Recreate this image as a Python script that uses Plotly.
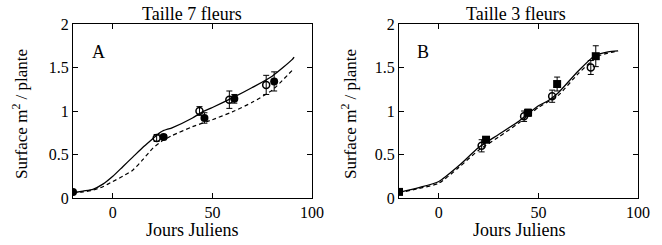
import plotly.graph_objects as go

# Panel A (Taille 7 fleurs)
a_solid_x = [-20, -15, -10, -5, 0, 5, 10, 15, 20, 23, 25, 30, 40, 45, 50, 60, 70, 80, 90, 91]
a_solid_y = [0.06, 0.08, 0.10, 0.16, 0.25, 0.36, 0.47, 0.58, 0.68, 0.74, 0.77, 0.81, 0.92, 0.99, 1.04, 1.15, 1.27, 1.40, 1.59, 1.62]
a_dash_x = [-20, -15, -10, -5, 0, 5, 10, 15, 20, 25, 30, 40, 50, 60, 70, 80, 91]
a_dash_y = [0.06, 0.07, 0.09, 0.13, 0.19, 0.25, 0.32, 0.44, 0.57, 0.66, 0.72, 0.82, 0.90, 0.99, 1.10, 1.24, 1.49]
a_open_x = [22, 43.5, 58.5, 77]
a_open_y = [0.69, 1.00, 1.13, 1.30]
a_open_err = [0.04, 0.05, 0.10, 0.11]
a_fill_x = [-20, 25.5, 46, 61, 81]
a_fill_y = [0.07, 0.70, 0.92, 1.14, 1.34]
a_fill_err = [0.0, 0.03, 0.06, 0.05, 0.11]

# Panel B (Taille 3 fleurs)
b_solid_x = [-20, -10, 0, 10, 20, 30, 40, 50, 55, 60, 70, 78, 85, 90]
b_solid_y = [0.065, 0.12, 0.19, 0.37, 0.58, 0.73, 0.88, 1.06, 1.12, 1.21, 1.46, 1.63, 1.68, 1.69]
b_dash_x = [-20, -10, 0, 10, 20, 30, 40, 50, 60, 70, 80, 90]
b_dash_y = [0.06, 0.11, 0.17, 0.35, 0.55, 0.70, 0.86, 1.04, 1.18, 1.43, 1.63, 1.69]
b_open_x = [21.5, 42.8, 56.9, 76.3]
b_open_y = [0.60, 0.94, 1.17, 1.50]
b_open_err = [0.07, 0.06, 0.07, 0.08]
b_fill_x = [-20, 23.7, 44.8, 59.4, 78.8]
b_fill_y = [0.07, 0.67, 0.98, 1.31, 1.63]
b_fill_err = [0.0, 0.03, 0.04, 0.08, 0.12]

x_ticks = [0, 50, 100]
y_ticks = [0, 0.5, 1, 1.5, 2]
y_labels = ["0", "0.5", "1", "1.5", "2"]

W, H = 662, 245
FONT = "Liberation Serif"

fig = go.Figure()

def add_panel(xa, ya, sx, sy, dx, dy, ox, oy, oe, fx, fy, fe, fsym):
    fig.add_trace(go.Scatter(x=sx, y=sy, mode="lines", line=dict(color="black", width=1.3, shape="spline", smoothing=0.6),
                             xaxis=xa, yaxis=ya, showlegend=False))
    fig.add_trace(go.Scatter(x=dx, y=dy, mode="lines", line=dict(color="black", width=1.2, dash="4px,3px", shape="spline", smoothing=0.6),
                             xaxis=xa, yaxis=ya, showlegend=False))
    fig.add_trace(go.Scatter(x=ox, y=oy, mode="markers",
                             marker=dict(symbol="circle-open", size=7, color="black", line=dict(width=1.5)),
                             error_y=dict(type="data", array=oe, color="black", thickness=1, width=3),
                             xaxis=xa, yaxis=ya, showlegend=False))
    fig.add_trace(go.Scatter(x=fx, y=fy, mode="markers",
                             marker=dict(symbol=fsym, size=8, color="black"),
                             error_y=dict(type="data", array=fe, color="black", thickness=1, width=3),
                             xaxis=xa, yaxis=ya, showlegend=False))

add_panel("x", "y", a_solid_x, a_solid_y, a_dash_x, a_dash_y, a_open_x, a_open_y, a_open_err,
          a_fill_x, a_fill_y, a_fill_err, "circle")
add_panel("x2", "y2", b_solid_x, b_solid_y, b_dash_x, b_dash_y, b_open_x, b_open_y, b_open_err,
          b_fill_x, b_fill_y, b_fill_err, "square")

ydom = [1 - 198 / H, 1 - 24 / H]
axis_common = dict(showgrid=False, zeroline=False, showline=True, linecolor="black", linewidth=1,
                   mirror="ticks", ticks="inside", ticklen=5, tickcolor="black",
                   tickfont=dict(family=FONT, size=16, color="black"))

fig.update_layout(
    width=W, height=H, margin=dict(l=0, r=0, t=0, b=0, autoexpand=False),
    plot_bgcolor="white", paper_bgcolor="white",
    font=dict(family=FONT, size=16, color="black"),
    xaxis=dict(domain=[73 / W, 312 / W], range=[-20, 100], tickvals=x_ticks, anchor="y", **axis_common),
    yaxis=dict(domain=ydom, range=[0, 2], tickvals=y_ticks, ticktext=y_labels, anchor="x", **axis_common),
    xaxis2=dict(domain=[399 / W, 638 / W], range=[-20, 100], tickvals=x_ticks, anchor="y2", **axis_common),
    yaxis2=dict(domain=ydom, range=[0, 2], tickvals=y_ticks, ticktext=y_labels, anchor="x2", **axis_common),
)

ann = []
def paper_ann(text, x, y, angle=0, size=18):
    ann.append(dict(text=text, x=x / W, y=1 - y / H, xref="paper", yref="paper",
                    showarrow=False, textangle=angle, xanchor="center", yanchor="middle",
                    font=dict(family=FONT, size=size, color="black")))

paper_ann("Taille 7 fleurs", 192, 14)
paper_ann("Taille 3 fleurs", 516, 14)
paper_ann("Jours Juliens", 192, 230)
paper_ann("Jours Juliens", 519, 230)
paper_ann("Surface m<sup>2</sup> / plante", 20, 114, -90, 17)
paper_ann("Surface m<sup>2</sup> / plante", 349, 114, -90, 17)
ann.append(dict(text="A", x=-7, y=1.68, xref="x", yref="y", showarrow=False,
                font=dict(family=FONT, size=18, color="black")))
ann.append(dict(text="B", x=-8, y=1.68, xref="x2", yref="y2", showarrow=False,
                font=dict(family=FONT, size=18, color="black")))
fig.update_layout(annotations=ann)

fig.write_html("out.html", config={"displayModeBar": False},
               post_script="document.body.style.margin='0';document.body.style.overflow='hidden';")
